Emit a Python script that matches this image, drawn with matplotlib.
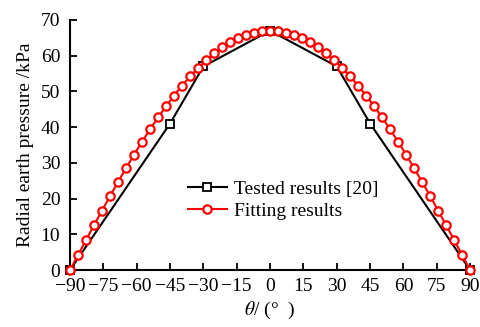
import matplotlib
matplotlib.use('Agg')
import matplotlib.pyplot as plt

plt.rcParams['font.family'] = ['Liberation Serif', 'DejaVu Serif']
plt.rcParams['mathtext.fontset'] = 'stix'

# tested data
test_theta = [-90, -45, -30, 0, 30, 45, 90]
test_p = [0, 41, 57, 67, 57, 41, 0]

# fitting results, every 3.6 deg
fit_theta = [-90 + 3.6 * i for i in range(51)]
half = [0.0, 4.2, 8.4, 12.55, 16.66, 20.7, 24.66, 28.53, 32.28, 35.9, 39.38,
        42.71, 45.86, 48.84, 51.62, 54.2, 56.57, 58.71, 60.62, 62.3, 63.72,
        64.9, 65.81, 66.47, 66.87, 67.0]
fit_p = half + half[-2::-1]

fig = plt.figure(figsize=(4.81, 3.27), dpi=100)
ax = fig.add_axes([0.1455, 0.174, 0.832, 0.765])

ax.plot(test_theta, test_p, color='black', lw=1.5, marker='s', ms=6,
        mfc='white', mec='black', mew=1.3, clip_on=False, zorder=3,
        label='Tested results [20]')
ax.plot(fit_theta, fit_p, color='red', lw=1.5, marker='o', ms=6,
        mfc='white', mec='red', mew=1.6, clip_on=False, zorder=4,
        label='Fitting results')

ax.set_xlim(-90, 90)
ax.set_ylim(0, 70)
ax.set_xticks(range(-90, 91, 15))
ax.set_yticks(range(0, 71, 10))
ax.spines['top'].set_visible(False)
ax.spines['right'].set_visible(False)
ax.spines['left'].set_linewidth(1.5)
ax.spines['bottom'].set_linewidth(1.5)
ax.tick_params(direction='in', length=5, width=1.3, labelsize=14)
ax.tick_params(axis='y', pad=7)
ax.tick_params(axis='x', pad=6)

ax.set_ylabel('Radial earth pressure /kPa', fontsize=14, labelpad=5)
ax.set_xlabel(r'$\theta$/ (°  )', fontsize=14, labelpad=3)

ax.legend(loc='upper left', bbox_to_anchor=(0.295, 0.36), frameon=False,
          fontsize=14, handlelength=2.0, handletextpad=0.35, labelspacing=0.25,
          borderaxespad=0, borderpad=0)

fig.savefig('out.png', dpi=100)
